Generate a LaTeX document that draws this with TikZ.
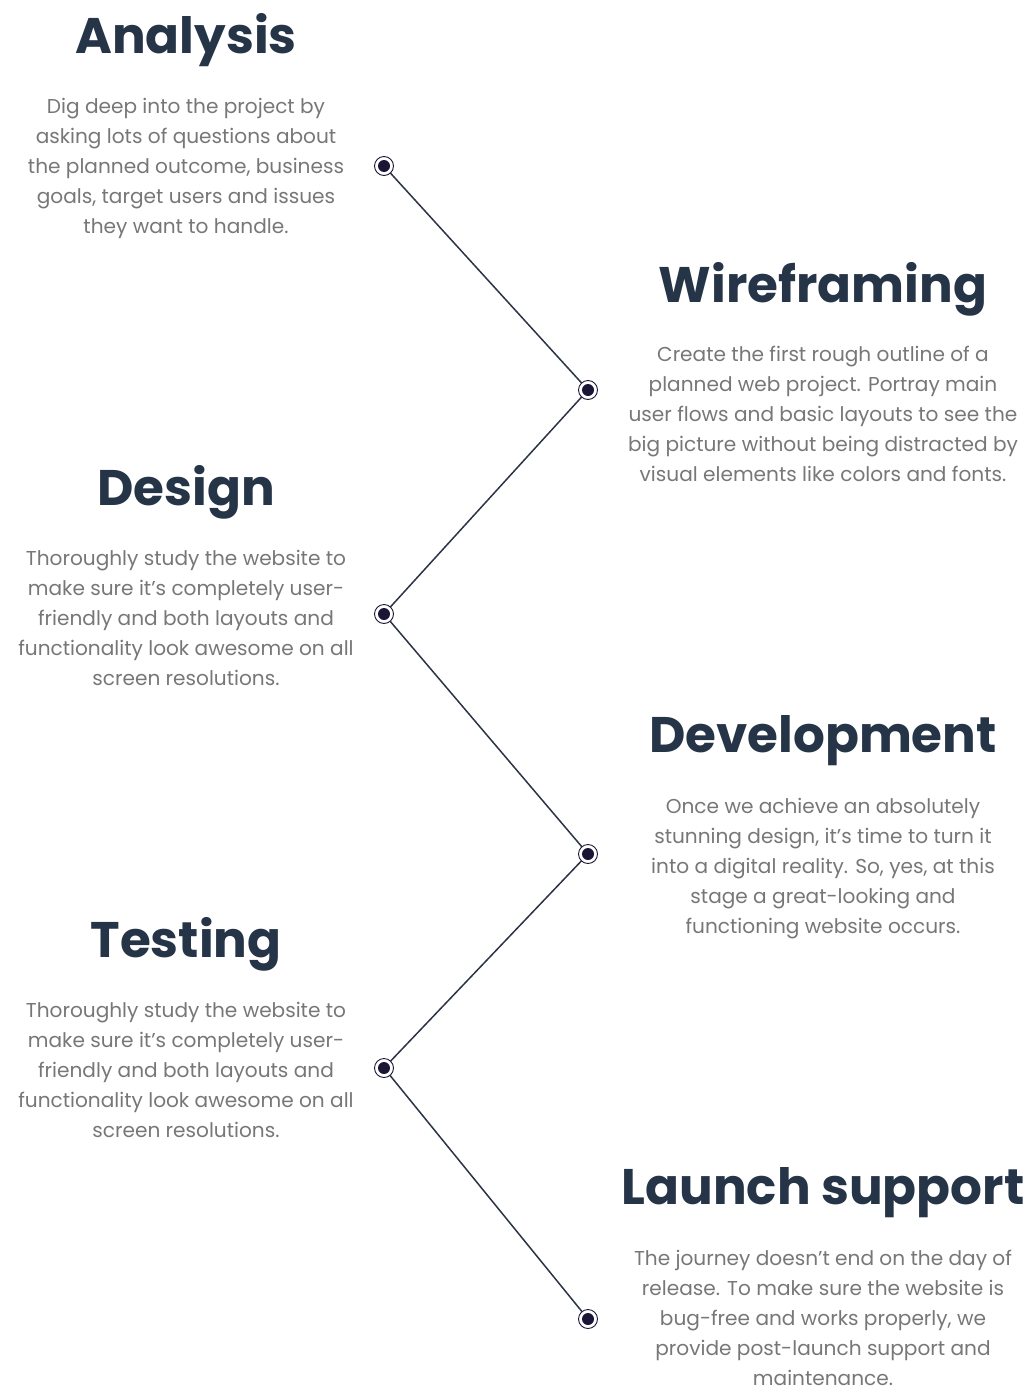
\documentclass[tikz,border=0pt]{standalone}
\usepackage{fontspec}
\setmainfont{Poppins}
\definecolor{titlecol}{HTML}{263447}
\definecolor{bodycol}{HTML}{777777}
\definecolor{linecol}{HTML}{2B3445}
\definecolor{dotcol}{HTML}{1C1636}
\begin{document}
\begin{tikzpicture}[x=1pt,y=-1pt,
  title/.style={font=\fontsize{50}{56}\selectfont\bfseries, text=titlecol, inner sep=0pt, anchor=center},
  body/.style={font=\fontsize{20.1}{30}\selectfont, text=bodycol, align=center, inner sep=0pt, anchor=north},
  milestone/.style={circle, fill=dotcol, minimum size=12pt, inner sep=0pt,
    append after command={\pgfextra{\draw[dotcol, line width=0.9pt] (\tikzlastnode.center) circle (9.5pt);}}},
  link/.style={linecol, line width=1.5pt, shorten <=9pt, shorten >=9pt}]
\useasboundingbox (0,0) rectangle (1025,1392);

% timeline milestones
\node[milestone] (m1) at (384,166) {};
\node[milestone] (m2) at (588,390) {};
\node[milestone] (m3) at (384,614) {};
\node[milestone] (m4) at (588,854) {};
\node[milestone] (m5) at (384,1068) {};
\node[milestone] (m6) at (588,1319) {};

\draw[link] (m1.center) -- (m2.center);
\draw[link] (m2.center) -- (m3.center);
\draw[link] (m3.center) -- (m4.center);
\draw[link] (m4.center) -- (m5.center);
\draw[link] (m5.center) -- (m6.center);

% stage titles
\node[title] (t1) at (186,40) {Analysis};
\node[title] (t2) at (823,289) {Wireframing};
\node[title] (t3) at (186,492) {Design};
\node[title] (t4) at (823,741) {Development};
\node[title] (t5) at (186,944) {Testing};
\node[title] (t6) at (823,1193) {Launch support};

% stage descriptions
\node[body] (b1) at (186,98) {Dig deep into the project by\\asking lots of questions about\\the planned outcome, business\\goals, target users and issues\\they want to handle.};
\node[body] (b2) at (823,346) {Create the first rough outline of a\\planned web project. Portray main\\user flows and basic layouts to see the\\big picture without being distracted by\\visual elements like colors and fonts.};
\node[body] (b3) at (186,550) {Thoroughly study the website to\\make sure it’s completely user-\\friendly and both layouts and\\functionality look awesome on all\\screen resolutions.};
\node[body] (b4) at (823,798) {Once we achieve an absolutely\\stunning design, it’s time to turn it\\into a digital reality. So, yes, at this\\stage a great-looking and\\functioning website occurs.};
\node[body] (b5) at (186,1002) {Thoroughly study the website to\\make sure it’s completely user-\\friendly and both layouts and\\functionality look awesome on all\\screen resolutions.};
\node[body] (b6) at (823,1250) {The journey doesn’t end on the day of\\release. To make sure the website is\\bug-free and works properly, we\\provide post-launch support and\\maintenance.};
\end{tikzpicture}
\end{document}
